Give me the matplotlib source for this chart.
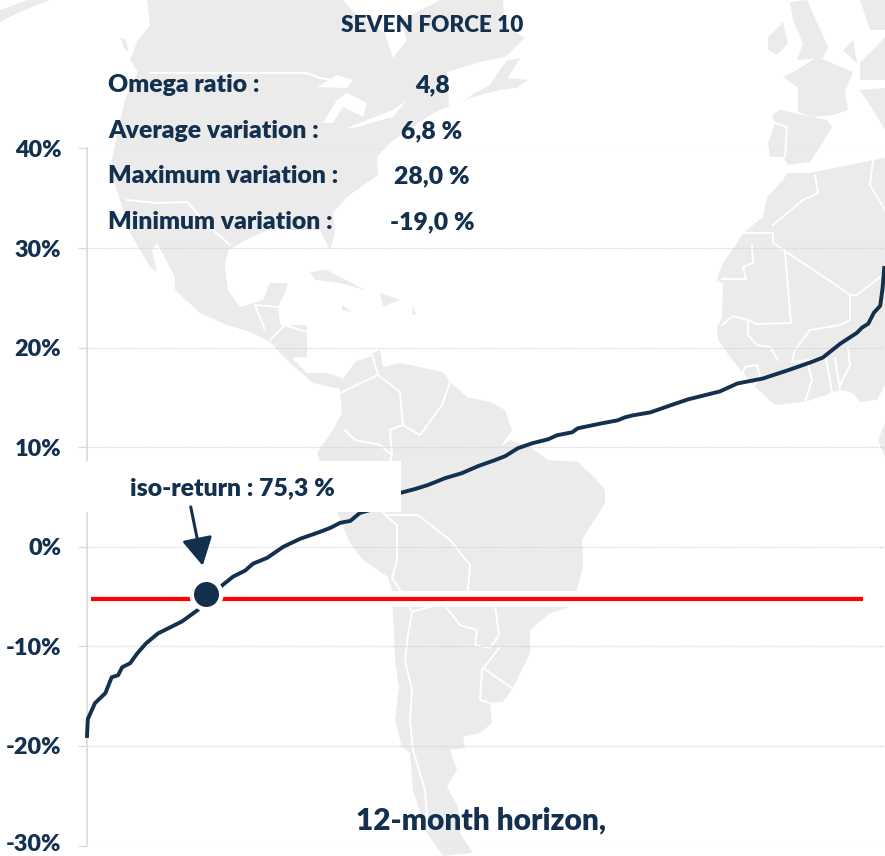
import matplotlib
matplotlib.use("Agg")
import matplotlib.pyplot as plt
from matplotlib.patches import Rectangle
from matplotlib.transforms import ScaledTranslation

NAVY = "#14304f"
LAND = "#ebebeb"
W, H = 885, 856

# distribution curve: rank in % of the width, 12-month variation in %
rank = [0, 0.1, 1.0, 2.3, 3.1, 3.9, 4.4, 5.4, 6.3, 7.4, 8.9, 10.4, 11.9, 13.8,
        16.9, 18.3, 19.8, 20.8, 22.6, 24.6, 26.7, 29.2, 30.5, 31.7, 33.0, 34.2,
        35.5, 39.2, 41.1, 42.7, 44.9, 47.0, 49.0, 51.1, 52.4, 54.0, 55.8, 57.8,
        58.9, 60.8, 61.5, 64.5, 66.5, 67.4, 68.4, 70.6, 73.1, 75.3, 79.3, 81.5,
        84.7, 88.1, 90.6, 92.2, 94.4, 96.5, 97.1, 97.9, 98.6, 99.4, 99.7, 99.9]
variation = [-19.0, -17.3, -15.7, -14.7, -13.1, -12.9, -12.1, -11.7, -10.7, -9.7,
             -8.7, -8.1, -7.5, -6.4, -3.9, -3.0, -2.4, -1.7, -1.1, 0.0, 0.8, 1.5,
             1.9, 2.4, 2.6, 3.4, 3.7, 5.4, 5.8, 6.2, 6.9, 7.4, 8.1, 8.7, 9.1, 9.9,
             10.4, 10.8, 11.2, 11.5, 11.9, 12.4, 12.7, 13.0, 13.2, 13.5, 14.2, 14.8,
             15.6, 16.4, 16.9, 17.8, 18.5, 19.0, 20.4, 21.5, 22.0, 22.4, 23.5, 24.2,
             26.0, 28.0]
threshold = -5.2
threshold_span = [0.5, 97.3]
iso_rank = 14.9
iso_value = -4.7
y_ticks = [40, 30, 20, 10, 0, -10, -20, -30]
y_labels = ["40%", "30%", "20%", "10%", "0%", "-10%", "-20%", "-30%"]

title = "SEVEN FORCE 10"
stat_names = ["Omega ratio :", "Average variation :", "Maximum variation :", "Minimum variation :"]
stat_values = ["4,8", "6,8 %", "28,0 %", "-19,0 %"]

# background map outlines, in image pixels
north_america = [(147, 0), (150, 25), (138, 40), (130, 60), (138, 72), (125, 100), (118, 130),
                 (110, 170), (120, 200), (130, 233), (150, 267), (157, 272), (152, 250),
                 (157, 243), (175, 277), (175, 290), (200, 313), (227, 325), (250, 332),
                 (270, 342), (290, 363), (313, 383), (340, 389), (342, 378), (327, 373),
                 (307, 373), (292, 358), (307, 357), (307, 325), (280, 325), (278, 307),
                 (285, 293), (288, 283), (270, 283), (263, 300), (240, 307), (228, 290),
                 (225, 267), (228, 250), (250, 238), (273, 228), (293, 230), (320, 230),
                 (330, 250), (335, 233), (333, 213), (347, 197), (378, 175), (377, 157),
                 (390, 143), (427, 117), (440, 110), (473, 97), (500, 90), (517, 88),
                 (528, 80), (508, 78), (520, 58), (500, 62), (525, 38), (505, 25), (503, 0)]
hudson_bay = [(343, 0), (353, 12), (385, 33), (393, 58), (407, 40), (400, 20), (435, 3), (440, 0)]
gulf_st_lawrence = [(447, 72), (480, 62), (510, 56), (497, 74), (490, 85), (475, 93), (460, 103), (449, 106)]
lakes = [[(317, 87), (337, 75), (353, 80), (347, 88)],
         [(323, 123), (337, 100), (347, 93), (367, 103), (363, 117), (343, 107), (333, 123)],
         [(347, 128), (393, 110), (407, 100), (393, 117), (353, 128)]]
alaska = [(0, 22), (20, 12), (50, 0), (28, 0), (0, 10)]
vancouver = [(120, 37), (126, 40), (129, 52), (124, 48)]
caribbean = [[(310, 272), (327, 270), (365, 290), (340, 283), (315, 280)],
             [(380, 293), (400, 300), (383, 307)],
             [(342, 305), (352, 312), (342, 310)],
             [(413, 305), (416, 315), (412, 315)]]
south_america = [(340, 387), (342, 380), (357, 360), (380, 350), (383, 367), (400, 363), (443, 372),
                 (450, 382), (467, 397), (490, 402), (505, 410), (512, 430), (500, 447), (510, 440),
                 (530, 447), (548, 460), (578, 462), (595, 478), (605, 490), (605, 503),
                 (590, 527), (582, 540), (583, 567), (577, 590), (570, 607), (550, 613), (530, 630),
                 (530, 653), (512, 690), (503, 702), (490, 703), (492, 723), (480, 733), (463, 737),
                 (465, 748), (450, 750), (457, 770), (447, 787), (458, 807), (460, 833), (473, 853),
                 (443, 856), (427, 833), (413, 790), (410, 753), (402, 747), (395, 720), (399, 687),
                 (395, 660), (393, 613), (392, 590), (388, 577), (363, 560), (350, 543), (337, 512),
                 (317, 453), (333, 430), (342, 413), (340, 393)]
africa = [(787, 173), (810, 173), (873, 160), (885, 158), (885, 385), (877, 400), (860, 402), (853, 393),
          (840, 390), (805, 402), (775, 405), (753, 385), (730, 357), (718, 340), (717, 327), (722, 317),
          (723, 283), (717, 280), (723, 263), (737, 243), (743, 233), (763, 217), (767, 197), (783, 180)]
gabon = [(885, 423), (878, 440), (885, 457)]
europe = [[(783, 77), (797, 70), (817, 57), (853, 72), (845, 92), (848, 110), (833, 115), (813, 117), (798, 112), (798, 88)],
          [(772, 115), (780, 110), (827, 120), (832, 127), (820, 147), (810, 162), (788, 165), (783, 157), (770, 157), (768, 143), (775, 123)],
          [(790, 2), (807, 0), (828, 47), (823, 58), (797, 60), (803, 43), (793, 20)],
          [(768, 37), (783, 22), (788, 43), (777, 55), (768, 50)],
          [(885, 37), (860, 63), (860, 80), (885, 80)],
          [(860, 90), (885, 88), (885, 130), (873, 110)],
          [(843, 50), (853, 40), (857, 63)],
          [(860, 0), (885, 0), (885, 30), (870, 30)]]
borders = [[(150, 73), (307, 73), (320, 78), (330, 80)],
           [(127, 200), (157, 203), (187, 202), (213, 230), (230, 245)],
           [(265, 330), (255, 305), (278, 307)],
           [(270, 340), (285, 325), (307, 332)],
           [(775, 123), (787, 127), (785, 157)],
           [(815, 175), (818, 193), (803, 200), (773, 225)],
           [(873, 160), (870, 185), (885, 210)],
           [(743, 233), (773, 233), (773, 243), (833, 283), (850, 295), (857, 295), (885, 273)],
           [(752, 245), (753, 263), (743, 267), (746, 279), (722, 279)],
           [(785, 252), (791, 323), (757, 324), (748, 320), (733, 316), (722, 325)],
           [(850, 295), (850, 320), (840, 325), (810, 330), (795, 350), (792, 362)],
           [(748, 320), (748, 335), (757, 345), (770, 347), (778, 360)],
           [(742, 375), (745, 367), (757, 365), (760, 375), (753, 387)],
           [(808, 365), (812, 380), (805, 402)],
           [(792, 362), (826, 358), (832, 392)],
           [(835, 358), (840, 390)],
           [(848, 348), (850, 365), (840, 385)],
           [(357, 360), (372, 355), (378, 375), (400, 392), (403, 425), (420, 435), (442, 405), (450, 382)],
           [(378, 375), (340, 393)],
           [(403, 425), (390, 430), (392, 455), (380, 445), (355, 440), (345, 430)],
           [(392, 455), (378, 505), (385, 515), (418, 515), (450, 540), (470, 565), (468, 590)],
           [(385, 515), (397, 525), (397, 560), (392, 578), (400, 590), (412, 612), (432, 606), (445, 606), (460, 625), (477, 630), (475, 645), (490, 648), (499, 635), (495, 605), (470, 600)],
           [(412, 612), (408, 635), (405, 660), (412, 690), (410, 720), (413, 750), (425, 790), (428, 830)],
           [(499, 648), (482, 670), (480, 700), (490, 703)],
           [(483, 668), (512, 688)]]


def main():
    fig = plt.figure(figsize=(W / 100, H / 100), dpi=100)
    plt.rcParams["font.family"] = ["Lato", "DejaVu Sans"]

    # map behind the chart
    bg = fig.add_axes([0, 0, 1, 1], zorder=0)
    bg.set_xlim(0, W)
    bg.set_ylim(H, 0)
    bg.axis("off")
    land = [north_america, alaska, vancouver, south_america, africa, gabon] + caribbean + europe
    for shape in land:
        bg.fill(*zip(*shape), color=LAND, lw=0)
    for shape in [hudson_bay, gulf_st_lawrence] + lakes:
        bg.fill(*zip(*shape), color="white", lw=0)
    for line in borders:
        bg.plot(*zip(*line), color="white", lw=1.4)

    ax = fig.add_axes([87 / W, (H - 845.5) / H, (W - 87) / W, 697 / H], zorder=1)
    ax.patch.set_alpha(0)
    ax.set_xlim(0, 100)
    ax.set_ylim(-30, 40)
    for side in ["top", "right", "bottom"]:
        ax.spines[side].set_visible(False)
    ax.spines["left"].set_color("#d9d9d9")
    ax.spines["left"].set_linewidth(1.2)
    ax.set_xticks([])
    ax.set_yticks(y_ticks)
    ax.set_yticklabels(y_labels, fontsize=16.8, fontweight="heavy", color=NAVY)
    ax.tick_params(axis="y", length=6.5, width=0.9, color="#d9d9d9", pad=12)
    ax.grid(axis="y", color="#d4d4d4", linestyle=(0, (1, 1)), linewidth=0.9)
    ax.set_axisbelow(True)
    # keep the lowest label inside the picture
    bottom_label = ax.get_yticklabels()[-1]
    bottom_label.set_transform(bottom_label.get_transform() + ScaledTranslation(0, 2.5 / 72, fig.dpi_scale_trans))

    ax.plot(rank, variation, color=NAVY, lw=2.8, zorder=3, clip_on=False, solid_joinstyle="round")

    # red threshold with its white band
    ax.plot(threshold_span, [threshold, threshold], color="white", lw=11.5,
            solid_capstyle="butt", zorder=2)
    ax.plot(threshold_span, [threshold, threshold], color="#ff0000", lw=3,
            solid_capstyle="butt", zorder=4)

    ax.plot([iso_rank], [iso_value], "o", ms=24.5, color="white", zorder=6, mew=0)
    ax.plot([iso_rank], [iso_value], "o", ms=18, color=NAVY, zorder=7, mew=0)

    # white box of the iso-return label hides curve and axis
    ax.add_patch(Rectangle((-0.2, 3.45), 39.5, 5.2, facecolor="white", edgecolor="none",
                           zorder=8, clip_on=False))
    ax.annotate("", xy=(14.5, -1.9), xytext=(13.0, 4.0), zorder=9,
                arrowprops=dict(arrowstyle="-|>,head_length=1.0,head_width=0.55", color=NAVY,
                                lw=2.2, shrinkA=0, shrinkB=0, mutation_scale=17))

    def label(x, y, s, size=17.8, ha="left"):
        fig.text(x / W, 1 - y / H, s, fontsize=size, fontweight="heavy", color=NAVY,
                 ha=ha, va="center", zorder=10)

    label(432, 25, title, size=16.2, ha="center")
    stat_y = [85, 131, 176, 222]
    for name, value, y in zip(stat_names, stat_values, stat_y):
        label(108, y, name)
        label(432, y, value, ha="center")
    label(232, 488, "iso-return : 75,3 %", ha="center")
    label(481, 821, "12-month horizon,", size=21.5, ha="center")

    fig.savefig("out.png", dpi=100)


if __name__ == "__main__":
    main()
